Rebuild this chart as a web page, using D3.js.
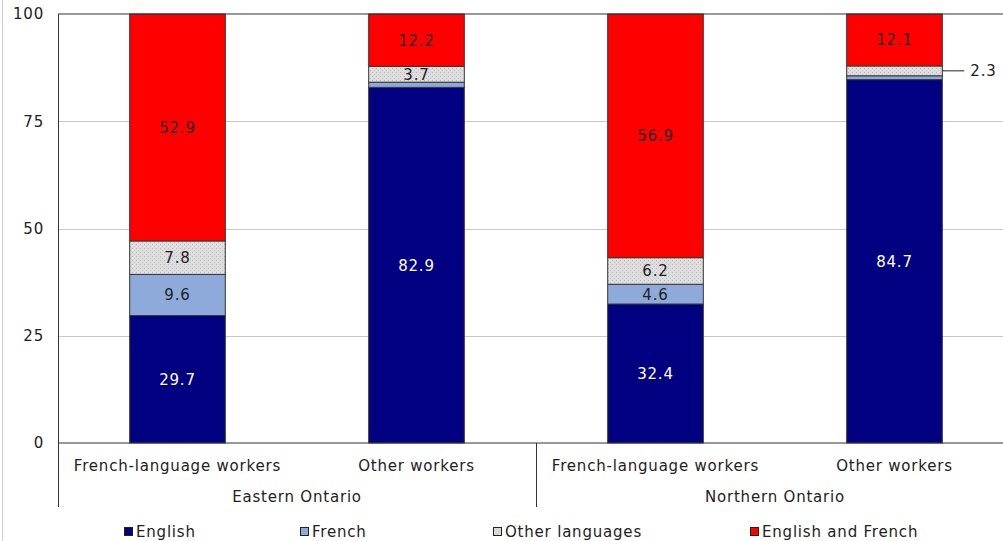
<!DOCTYPE html>
<html>
<head>
<meta charset="utf-8">
<script src="https://cdn.jsdelivr.net/npm/d3@7"></script>
<style>
  body { margin: 0; background: #fff; }
  text { font-family: "DejaVu Sans", Verdana, sans-serif; letter-spacing: 0.8px; }
</style>
</head>
<body>
<div id="chart"></div>
<script>
// data
var regions = ["Eastern Ontario", "Northern Ontario"];
var groups = ["French-language workers", "Other workers"];
var seriesNames = ["English", "French", "Other languages", "English and French"];
var english = [29.7, 82.9, 32.4, 84.7];
var french = [9.6, 1.2, 4.6, 0.9];
var otherLang = [7.8, 3.7, 6.2, 2.3];
var engFr = [52.9, 12.2, 56.9, 12.1];
var yTicks = [0, 25, 50, 75, 100];

var colors = ["#000080", "#8eaadb", "url(#dots)", "#ff0000"];
var legendColors = ["#000080", "#8eaadb", "#d9d9d9", "#ff0000"];
var textColors = ["#fff", "#222", "#222", "#222"];

var svgWidth = 1003;
var svgHeight = 541;
var margin = { top: 14, left: 58, bottom: 98 };
var plotRight = 1014;
var fontSize = "15px";

// build rows for the stack
var keys = [];
var data = [];
regions.forEach(function (r, i) {
    groups.forEach(function (g, j) {
        var k = i * 2 + j;
        keys.push(r + "|" + g);
        data.push({
            key: r + "|" + g, region: r, group: g,
            "English": english[k], "French": french[k],
            "Other languages": otherLang[k], "English and French": engFr[k]
        });
    });
});

var svg = d3.select("#chart")
    .append("svg")
    .attr("width", svgWidth)
    .attr("height", svgHeight);

// dotted fill for "Other languages"
var pat = svg.append("defs").append("pattern")
    .attr("id", "dots")
    .attr("patternUnits", "userSpaceOnUse")
    .attr("width", 4).attr("height", 4);
pat.append("rect").attr("width", 4).attr("height", 4).attr("fill", "#dedede");
pat.append("rect").attr("x", 0).attr("y", 0).attr("width", 1).attr("height", 1).attr("fill", "#b8b8b8");
pat.append("rect").attr("x", 2).attr("y", 2).attr("width", 1).attr("height", 1).attr("fill", "#c4c4c4");

var x = d3.scaleBand()
    .domain(keys)
    .range([margin.left, plotRight])
    .paddingInner(0.6)
    .paddingOuter(0.3);

var y = d3.scaleLinear()
    .domain([0, 100])
    .range([svgHeight - margin.bottom, margin.top]);

// faint frame line on the left
svg.append("line")
    .attr("x1", 2.5).attr("x2", 2.5)
    .attr("y1", 0).attr("y2", svgHeight)
    .attr("stroke", "#d0d0d0");

// gridlines
svg.append("g")
    .selectAll("line")
    .data(yTicks.filter(function (t) { return t > 0 && t < 100; }))
    .enter()
    .append("line")
    .attr("x1", margin.left).attr("x2", plotRight)
    .attr("y1", function (d) { return Math.round(y(d)) + 0.5; })
    .attr("y2", function (d) { return Math.round(y(d)) + 0.5; })
    .attr("stroke", "#c8c8c8");

// y axis labels
var yAxis = svg.append("g")
    .attr("transform", "translate(" + margin.left + ",0)")
    .call(d3.axisLeft(y).tickValues(yTicks).tickSize(0).tickPadding(14));
yAxis.select(".domain").remove();
yAxis.selectAll("text")
    .style("font-family", "DejaVu Sans, Verdana, sans-serif")
    .style("font-size", fontSize)
    .attr("fill", "#222");

var stack = d3.stack().keys(seriesNames);
var stacked = stack(data);

var layers = svg.selectAll(".layer")
    .data(stacked)
    .enter()
    .append("g")
    .attr("class", "layer")
    .attr("fill", function (d, i) { return colors[i]; });

layers.selectAll("rect")
    .data(function (d) { return d; })
    .enter()
    .append("rect")
    .attr("x", function (d) { return x(d.data.key); })
    .attr("width", x.bandwidth())
    .attr("y", function (d) { return y(Math.min(d[1], 100)); })
    .attr("height", function (d) { return y(d[0]) - y(Math.min(d[1], 100)); })
    .attr("stroke", "#333")
    .attr("stroke-width", 1);

// value labels
stacked.forEach(function (layer, i) {
    layer.forEach(function (d) {
        var v = d.data[seriesNames[i]];
        var top = Math.min(d[1], 100);
        var cy = (y(d[0]) + y(top)) / 2;
        var cx = x(d.data.key) + x.bandwidth() / 2;
        if (v < 2) return;
        if (v < 3) {
            // label outside with leader line
            var bx = x(d.data.key) + x.bandwidth();
            svg.append("line")
                .attr("x1", bx).attr("x2", bx + 22)
                .attr("y1", cy).attr("y2", cy)
                .attr("stroke", "#222");
            svg.append("text")
                .attr("x", bx + 28).attr("y", cy)
                .attr("dy", "0.35em")
                .attr("font-size", fontSize)
                .attr("fill", "#222")
                .text(v.toFixed(1));
            return;
        }
        svg.append("text")
            .attr("x", cx).attr("y", cy)
            .attr("dy", "0.36em")
            .attr("text-anchor", "middle")
            .attr("font-size", fontSize)
            .attr("fill", textColors[i])
            .text(v.toFixed(1));
    });
});

// plot frame: top and bottom
svg.append("line")
    .attr("x1", margin.left).attr("x2", plotRight)
    .attr("y1", y(100)).attr("y2", y(100))
    .attr("stroke", "#333");
svg.append("line")
    .attr("x1", margin.left).attr("x2", plotRight)
    .attr("y1", y(0)).attr("y2", y(0))
    .attr("stroke", "#333");
svg.append("line")
    .attr("x1", margin.left + 0.5).attr("x2", margin.left + 0.5)
    .attr("y1", y(100)).attr("y2", y(0) + 64)
    .attr("stroke", "#333");

// category labels
svg.selectAll(".cat")
    .data(data)
    .enter()
    .append("text")
    .attr("class", "cat")
    .attr("x", function (d) { return x(d.key) + x.bandwidth() / 2; })
    .attr("y", y(0) + 28)
    .attr("text-anchor", "middle")
    .attr("font-size", fontSize)
    .attr("fill", "#222")
    .text(function (d) { return d.group; });

// region labels and separators
var step = x.step();
regions.forEach(function (r, i) {
    var left = x(keys[i * 2]) - x.paddingOuter() * step;
    var right = left + 2 * step;
    svg.append("line")
        .attr("x1", Math.round(right) + 0.5).attr("x2", Math.round(right) + 0.5)
        .attr("y1", y(0)).attr("y2", y(0) + 64)
        .attr("stroke", "#333");
    svg.append("text")
        .attr("x", (left + right) / 2)
        .attr("y", y(0) + 59)
        .attr("text-anchor", "middle")
        .attr("font-size", fontSize)
        .attr("fill", "#222")
        .text(r);
});

// legend
var legendX = [124, 300, 493, 750];
var legend = svg.selectAll(".legend")
    .data(seriesNames)
    .enter()
    .append("g")
    .attr("class", "legend")
    .attr("transform", function (d, i) { return "translate(" + legendX[i] + "," + 532 + ")"; });
legend.append("rect")
    .attr("x", 0.5).attr("y", -4.5)
    .attr("width", 8).attr("height", 8)
    .attr("fill", function (d, i) { return legendColors[i]; })
    .attr("stroke", "#222");
legend.append("text")
    .attr("x", 12).attr("y", 0)
    .attr("dy", "0.35em")
    .attr("font-size", fontSize)
    .attr("fill", "#222")
    .text(function (d) { return d; });
</script>
</body>
</html>
